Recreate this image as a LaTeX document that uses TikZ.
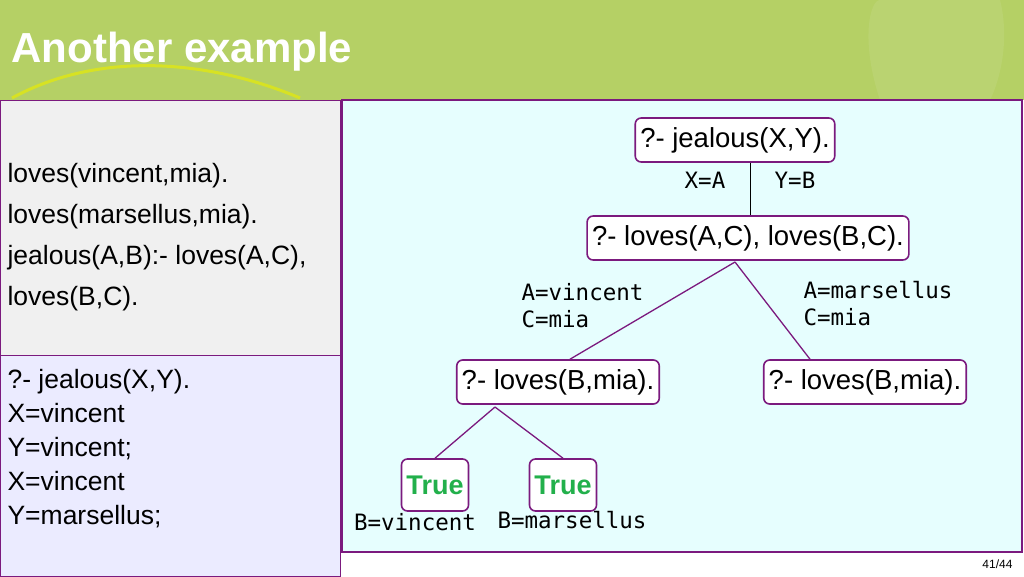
\documentclass[tikz,border=0pt]{standalone}
\usepackage{fontspec}
\setmainfont{Liberation Sans}
\setmonofont{DejaVu Sans Mono}
\definecolor{barGreen}{HTML}{B5D065}
\definecolor{goalPurple}{HTML}{7B1A7E}
\definecolor{trueGreen}{HTML}{22B04B}
\definecolor{paneCyan}{HTML}{E6FEFE}
\tikzset{
	goal/.style={draw=goalPurple, line width=1.6pt, rounded corners=6pt, fill=white,
		font=\fontsize{27.5}{30}\selectfont, inner sep=5pt, minimum height=44pt},
	truebox/.style={goal, font=\fontsize{27}{30}\selectfont\bfseries, text=trueGreen, minimum height=52pt},
	subst/.style={font=\fontsize{22.5}{27}\selectfont\ttfamily, align=left},
	branch/.style={draw=goalPurple, line width=1.3pt}
}
\begin{document}
\begin{tikzpicture}[x=1pt,y=-1pt]

	\useasboundingbox (0,0) rectangle (1024,576);
	\fill[barGreen] (0,0) rectangle (1024,100);
	\fill[white, opacity=.08] (880,100) .. controls (860,40) and (870,0) .. (880,0) -- (1000,0) .. controls (1010,40) and (1000,80) .. (990,100) -- cycle;
	\draw[yellow!90!green, line width=3pt, opacity=.7] (12,98) .. controls (100,50) and (210,60) .. (300,98);
	\node[anchor=west, text=white, font=\fontsize{42}{44}\selectfont\bfseries] (title) at (8,52) {Another example};

	\fill[gray!12] (0,100) rectangle (340,355);
	\fill[blue!8] (0,355) rectangle (340,576);
	\draw[goalPurple, line width=.6pt] (0,100) rectangle (340,576) (0,355) -- (340,355);
	\draw[goalPurple, line width=1.2pt, fill=paneCyan] (342,100) rectangle (1022,552);
	\node[anchor=south east, font=\fontsize{12}{14}\selectfont] (page) at (1016,572) {41/44};

	\node[anchor=north west, align=left, font=\fontsize{26.5}{41}\selectfont] (program) at (4,160)
		{loves(vincent,mia).\\loves(marsellus,mia).\\jealous(A,B):- loves(A,C),\\loves(B,C).};
	\node[anchor=north west, align=left, font=\fontsize{26.5}{34}\selectfont] (answers) at (4,366)
		{?- jealous(X,Y).\\X=vincent\\Y=vincent;\\X=vincent\\Y=marsellus;};

	\node[goal] (jealous) at (735,140) {?- jealous(X,Y).};
	\node[goal] (lovesAB) at (748,238) {?- loves(A,C), loves(B,C).};
	\node[goal] (lovesL) at (558,382) {?- loves(B,mia).};
	\node[goal] (lovesR) at (865,382) {?- loves(B,mia).};
	\node[truebox] (trueL) at (435,485) {True};
	\node[truebox] (trueR) at (563,485) {True};

	\coordinate (splitX) at (750,0);
	\draw[line width=1pt] (jealous.south -| splitX) -- (lovesAB.north -| splitX);
	\node[subst] (xa) at (705,180) {X=A};
	\node[subst] (yb) at (795,180) {Y=B};

	\coordinate (splitAB) at (735,262);
	\coordinate (footL) at (570,0);
	\coordinate (footR) at (810,0);
	\draw[branch] (splitAB) -- (lovesL.north -| footL);
	\draw[branch] (splitAB) -- (lovesR.north -| footR);
	\node[subst, anchor=west] (vincentMia) at (518,306) {A=vincent\\C=mia};
	\node[subst, anchor=west] (marsellusMia) at (800,304) {A=marsellus\\C=mia};

	\coordinate (splitL) at (495,407);
	\draw[branch] (splitL) -- (trueL.north);
	\draw[branch] (splitL) -- (trueR.north);
	\node[subst] (bVincent) at (415,522) {B=vincent};
	\node[subst] (bMarsellus) at (572,520) {B=marsellus};
\end{tikzpicture}
\end{document}
